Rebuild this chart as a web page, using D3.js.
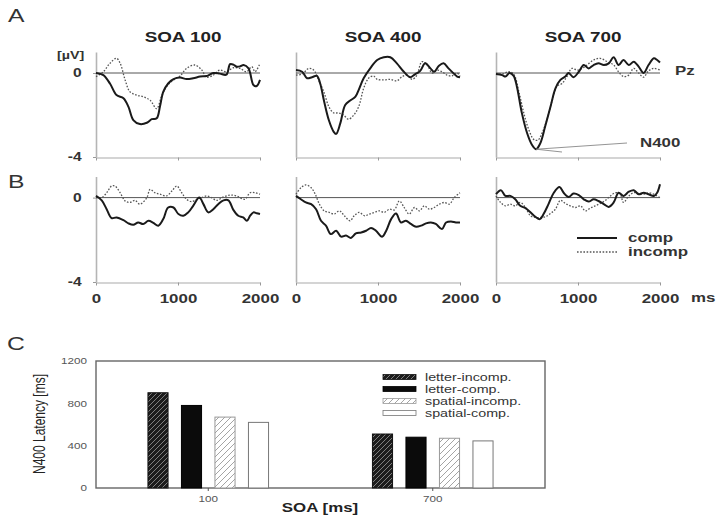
<!DOCTYPE html>
<html><head><meta charset="utf-8">
<script src="https://cdn.jsdelivr.net/npm/d3@7"></script>
<style>body{margin:0;background:#fff}svg{display:block}</style>
</head><body>
<svg id="c" width="717" height="517"></svg>
<script>
// ---------- DATA ----------
const soaTitles = ["SOA 100", "SOA 400", "SOA 700"];
const timeTicks = [0, 1000, 2000];
const voltTicks = [0, -4];
// ERP waveforms: [time ms, amplitude µV]
const a100Comp = [[0,0],[90,-0.1],[170,-0.5],[250,-1.05],[335,-1.2],[395,-1.6],[455,-2.24],[535,-2.43],[620,-2.37],[680,-2.2],[740,-2.16],[780,-1.6],[820,-0.9],[880,-0.5],[945,-0.29],[1025,-0.22],[1105,-0.29],[1185,-0.25],[1270,-0.17],[1350,-0.14],[1430,0],[1510,-0.03],[1590,-0.08],[1635,0.42],[1675,0.4],[1715,0.3],[1760,0.32],[1800,0.38],[1860,0.22],[1920,-0.57],[1960,-0.62],[2000,-0.33]];
const a100Incomp = [[0,-0.17],[90,0.06],[170,0.46],[250,0.7],[295,0.46],[355,-0.33],[415,-0.9],[495,-1.05],[575,-1.13],[660,-1.3],[740,-1.7],[800,-1.1],[860,-0.65],[945,-0.33],[1025,-0.14],[1105,0.22],[1205,0.38],[1290,0.14],[1350,-0.2],[1430,-0.1],[1510,0.14],[1590,0.06],[1675,0.25],[1755,0.22],[1835,0.06],[1900,0.3],[1940,0.06],[2000,0.46]];
const a400Comp = [[0,0.14],[75,0.06],[135,-0.25],[195,-0.2],[255,-0.14],[295,-0.5],[340,-1.3],[400,-2.24],[460,-2.8],[490,-2.9],[540,-2.4],[600,-1.52],[665,-1.3],[725,-1.13],[765,-0.8],[825,-0.25],[905,0.22],[990,0.62],[1070,0.75],[1150,0.75],[1230,0.46],[1315,0.06],[1395,-0.2],[1455,-0.05],[1515,0.1],[1575,0.46],[1640,0.22],[1685,0.06],[1740,0.33],[1800,0.46],[1860,0.22],[1925,-0.03],[1965,-0.17],[2000,-0.2]];
const a400Incomp = [[0,-0.1],[75,-0.05],[155,0.22],[215,0.14],[275,-0.33],[340,-0.9],[400,-1.6],[460,-1.9],[520,-1.9],[580,-2.0],[640,-2.2],[705,-2.0],[765,-1.6],[825,-0.73],[885,-0.25],[945,-0.14],[990,-0.3],[1070,-0.33],[1150,-0.3],[1230,-0.37],[1295,-0.17],[1355,-0.1],[1415,-0.3],[1475,-0.1],[1535,0.54],[1600,0.38],[1660,0],[1720,0.14],[1780,0.06],[1840,-0.1],[1900,-0.14],[1965,0],[2000,-0.17]];
const a700Comp = [[0,-0.05],[75,-0.1],[115,-0.17],[165,0],[215,-0.14],[255,-0.65],[315,-1.9],[380,-2.87],[440,-3.43],[490,-3.63],[540,-3.35],[600,-2.54],[665,-1.6],[725,-0.73],[785,-0.33],[845,-0.17],[885,0],[945,-0.2],[1010,0.06],[1070,0.38],[1130,0.22],[1190,0.38],[1250,0.46],[1315,0.38],[1375,0.46],[1435,0.75],[1495,0.38],[1555,0.62],[1620,0.38],[1680,0.54],[1740,0.3],[1800,0],[1860,0.38],[1925,0.7],[1965,0.62],[2000,0.5]];
const a700Incomp = [[0,-0.05],[75,-0.05],[155,0.06],[215,-0.05],[285,-1.0],[345,-2.0],[400,-2.7],[460,-3.16],[510,-3.2],[560,-2.87],[620,-2.24],[685,-1.3],[745,-0.62],[805,-0.5],[865,-0.17],[925,0.22],[990,0.14],[1050,0.22],[1110,0.38],[1190,0.62],[1270,0.7],[1355,0.54],[1435,0.38],[1495,0.06],[1555,-0.17],[1620,-0.1],[1680,0.22],[1740,0],[1800,-0.2],[1860,0.1],[1925,0.22],[2000,0.14]];
const b100Comp = [[0,0.08],[70,-0.13],[130,-0.55],[190,-0.97],[250,-0.94],[335,-1.07],[395,-1.22],[455,-1.29],[515,-1.18],[575,-1.25],[640,-1.1],[700,-1.2],[760,-1.33],[820,-1.02],[880,-0.47],[945,-0.47],[1005,-0.78],[1065,-0.86],[1125,-0.7],[1185,-0.39],[1260,0],[1310,-0.31],[1370,-0.7],[1430,-0.55],[1490,-0.31],[1555,-0.13],[1615,-0.13],[1675,-0.58],[1735,-0.86],[1795,-0.94],[1840,-1.1],[1880,-0.86],[1920,-0.7],[1960,-0.74],[2000,-0.78]];
const b100Incomp = [[0,0],[70,0],[130,0.23],[190,0.55],[230,0.55],[295,0.23],[355,-0.16],[415,-0.23],[475,-0.13],[535,-0.31],[620,0],[660,0.39],[720,0.23],[780,0.16],[860,0.08],[925,0.31],[985,0.55],[1045,0.23],[1105,-0.08],[1165,-0.19],[1230,-0.08],[1290,0],[1350,0.08],[1410,0],[1470,-0.13],[1555,0.03],[1635,0.12],[1715,0.08],[1815,-0.08],[1880,0.23],[1940,0.23],[2000,0.16]];
const b400Comp = [[0,0.08],[60,-0.08],[120,-0.23],[185,-0.31],[245,-0.55],[305,-1.1],[365,-1.33],[425,-1.73],[490,-1.57],[550,-1.85],[610,-1.8],[670,-1.91],[730,-1.7],[795,-1.65],[855,-1.57],[915,-1.44],[975,-1.57],[1050,-1.85],[1100,-1.57],[1160,-1.02],[1220,-0.75],[1280,-1.18],[1340,-1.1],[1400,-1.25],[1465,-1.38],[1525,-1.33],[1585,-1.22],[1645,-1.18],[1705,-1.25],[1780,-1.49],[1830,-1.18],[1890,-1.13],[1950,-1.18],[2000,-1.18]];
const b400Incomp = [[0,0.16],[60,0.47],[120,0.6],[185,0.47],[235,0.16],[285,-0.31],[345,-0.63],[405,-0.7],[465,-0.78],[530,-0.63],[590,-0.86],[660,-1.1],[710,-0.86],[770,-0.7],[835,-0.86],[895,-0.78],[955,-0.7],[1015,-0.63],[1075,-0.7],[1140,-0.55],[1200,-0.58],[1260,-0.16],[1320,-0.47],[1380,-0.78],[1445,-0.47],[1505,-0.63],[1565,-0.39],[1625,-0.55],[1685,-0.47],[1750,-0.31],[1810,-0.23],[1870,-0.31],[1930,0],[2000,0.23]];
const b700Comp = [[0,0.16],[60,0.35],[115,0.08],[175,0.08],[235,-0.08],[295,-0.39],[360,-0.5],[420,-0.7],[480,-0.91],[535,-1.02],[580,-0.78],[640,-0.31],[705,0.23],[775,0.5],[825,0.23],[885,0.03],[945,0.19],[1010,0.12],[1070,-0.08],[1130,-0.19],[1190,-0.08],[1250,-0.16],[1315,-0.31],[1375,-0.44],[1435,-0.23],[1495,0.23],[1555,0.08],[1620,0.28],[1680,0.35],[1740,0.16],[1800,0.23],[1860,0.16],[1925,0.08],[1965,0.23],[2000,0.63]];
const b700Incomp = [[0,0.08],[55,-0.23],[115,-0.39],[175,-0.31],[235,-0.39],[295,-0.23],[360,-0.47],[420,-0.86],[480,-0.94],[540,-0.94],[600,-0.91],[665,-0.75],[725,-0.55],[785,-0.13],[845,-0.28],[905,-0.39],[970,-0.47],[1030,-0.39],[1090,-0.63],[1150,-0.5],[1210,-0.39],[1270,-0.28],[1335,-0.13],[1395,0.08],[1455,0.23],[1515,0.16],[1555,-0.23],[1620,0.08],[1680,0.23],[1740,0.2],[1800,0.16],[1860,0.23],[1925,0.16],[2000,0]];

// Bar chart (panel C)
const soaCategories = ["100", "700"];
const conditionNames = ["letter-incomp.", "letter-comp.", "spatial-incomp.", "spatial-comp."];
const letterIncomp = [900, 510];
const letterComp = [780, 480];
const spatialIncomp = [670, 470];
const spatialComp = [620, 445];
const latencyTicks = [0, 400, 800, 1200];

// ---------- DRAW ----------
const SX = 1.3; // horizontal text stretch of the original figure
const FONT = "'Liberation Sans', Arial, Helvetica, sans-serif";
const svg = d3.select("#c").style("font-family", FONT);

function txt(x, y, s, o = {}) {
  return svg.append("text")
    .attr("transform", `translate(${x},${y}) scale(${SX},1)` + (o.rot ? " rotate(-90)" : ""))
    .attr("text-anchor", o.anchor || "start")
    .attr("font-size", o.size || 12)
    .attr("font-weight", o.weight || "normal")
    .attr("fill", o.fill || "#333")
    .text(s);
}

// panel letters
txt(8, 22, "A", {size: 19, fill: "#333"});
txt(8, 188, "B", {size: 19, fill: "#333"});
txt(7, 350, "C", {size: 19, fill: "#333"});

const panelX = [96, 296, 496];
const panelW = 164;
const rows = [
  {top: 52, bottom: 157, series: [[a100Comp, a100Incomp], [a400Comp, a400Incomp], [a700Comp, a700Incomp]], labels: false},
  {top: 176.5, bottom: 282, series: [[b100Comp, b100Incomp], [b400Comp, b400Incomp], [b700Comp, b700Incomp]], labels: true}
];

let n400Point = null;

rows.forEach((row, ri) => {
  const y = d3.scaleLinear().domain([-4, 1]).range([row.bottom, row.top]);
  panelX.forEach((px, pi) => {
    const x = d3.scaleLinear().domain([0, 2000]).range([px, px + panelW]);
    const g = svg.append("g");
    // x axis
    const xa = g.append("g").attr("transform", `translate(0,${y(-4) + 0.5})`)
      .call(d3.axisBottom(x).tickValues(timeTicks).tickSize(3).tickPadding(8).tickSizeOuter(0)
        .tickFormat(row.labels ? d3.format("d") : () => ""));
    xa.select(".domain").attr("stroke", "#aaa").attr("stroke-width", 1.2);
    xa.selectAll(".tick line").attr("stroke", "#999");
    xa.selectAll("text").attr("font-family", FONT).attr("font-size", 13).attr("font-weight", "bold")
      .attr("fill", "#333").attr("transform", `scale(${SX},1)`);
    // y axis
    const ya = g.append("g").attr("transform", `translate(${px},0)`)
      .call(d3.axisLeft(y).tickValues(voltTicks).tickSize(pi === 0 ? 3 : 0).tickPadding(8).tickSizeOuter(0)
        .tickFormat(pi === 0 ? (d => d === -4 ? "-4" : String(d)) : () => ""));
    ya.select(".domain").attr("stroke", "#b5b5b5").attr("stroke-width", 1.6);
    ya.selectAll(".tick line").attr("stroke", "#999");
    ya.selectAll("text").attr("font-family", FONT).attr("font-size", 12).attr("font-weight", "bold")
      .attr("fill", "#333").attr("transform", `scale(${SX},1)`);
    // zero line
    g.append("line").attr("x1", x(0)).attr("x2", x(2000)).attr("y1", y(0)).attr("y2", y(0))
      .attr("stroke", "#555").attr("stroke-width", 1);
    const line = d3.line().x(d => x(d[0])).y(d => y(d[1])).curve(d3.curveCatmullRom.alpha(0.5));
    const [comp, incomp] = row.series[pi];
    g.append("path").attr("d", line(incomp)).attr("fill", "none")
      .attr("stroke", "#555").attr("stroke-width", 1.3).attr("stroke-dasharray", "1.6,1.6");
    g.append("path").attr("d", line(comp)).attr("fill", "none")
      .attr("stroke", "#1a1a1a").attr("stroke-width", 2);
    if (ri === 0 && pi === 2) {
      const m = d3.least(comp, d => d[1]);
      n400Point = [x(m[0]), y(m[1])];
    }
    if (ri === 0) {
      txt(px + panelW / 2 + 5, 42, soaTitles[pi], {size: 14.5, weight: "bold", anchor: "middle", fill: "#222"});
    }
  });
});

// [µV], Pz, N400, ms
txt(57, 59, "[µV]", {size: 11, weight: "bold", fill: "#333"});
txt(675, 75, "Pz", {size: 13, weight: "bold", fill: "#333"});
txt(640, 147, "N400", {size: 13, weight: "bold", fill: "#333"});
svg.append("line").attr("x1", n400Point[0]).attr("y1", n400Point[1]).attr("x2", 627).attr("y2", 143)
  .attr("stroke", "#888").attr("stroke-width", 0.9);
svg.append("line").attr("x1", n400Point[0]).attr("y1", n400Point[1]).attr("x2", 562).attr("y2", 152)
  .attr("stroke", "#888").attr("stroke-width", 0.9);
txt(691, 302, "ms", {size: 13, weight: "bold", fill: "#333"});

// B legend
svg.append("line").attr("x1", 577).attr("x2", 617).attr("y1", 238).attr("y2", 238)
  .attr("stroke", "#1a1a1a").attr("stroke-width", 2);
svg.append("line").attr("x1", 577).attr("x2", 617).attr("y1", 252).attr("y2", 252)
  .attr("stroke", "#555").attr("stroke-width", 1.3).attr("stroke-dasharray", "1.6,1.6");
txt(628, 242, "comp", {size: 13, weight: "bold", fill: "#333"});
txt(628, 256, "incomp", {size: 13, weight: "bold", fill: "#333"});

// ---------- Panel C ----------
const defs = svg.append("defs");
function hatch(id, bg, fg, sw, sp) {
  const p = defs.append("pattern").attr("id", id).attr("patternUnits", "userSpaceOnUse")
    .attr("width", sp).attr("height", sp);
  p.append("rect").attr("width", sp).attr("height", sp).attr("fill", bg);
  p.append("path").attr("d", `M0,${sp} L${sp},0 M${-sp/2},${sp/2} L${sp/2},${-sp/2} M${sp/2},${sp*1.5} L${sp*1.5},${sp/2}`)
    .attr("stroke", fg).attr("stroke-width", sw);
}
hatch("hDark", "#1c1c1c", "#8a8a8a", 0.9, 5);
hatch("hLight", "#ffffff", "#9a9a9a", 0.9, 6);

const condFill = ["url(#hDark)", "#0b0b0b", "url(#hLight)", "#ffffff"];
const condStroke = ["#111", "#000", "#999", "#777"];
const barValues = [letterIncomp, letterComp, spatialIncomp, spatialComp];

const cLeft = 96, cRight = 545, cTop = 361, cBottom = 488;
const xC = d3.scaleBand().domain(soaCategories).range([cLeft, cRight]);
const xInner = d3.scaleBand().domain(conditionNames).range([-67, 67]).paddingInner(0.4).paddingOuter(0.2);
const yC = d3.scaleLinear().domain([0, 1200]).range([cBottom, cTop]);

svg.append("rect").attr("x", cLeft).attr("y", cTop).attr("width", cRight - cLeft).attr("height", cBottom - cTop)
  .attr("fill", "none").attr("stroke", "#666").attr("stroke-width", 1.4);

const yCa = svg.append("g").attr("transform", `translate(${cLeft},0)`)
  .call(d3.axisLeft(yC).tickValues(latencyTicks).tickSize(0).tickPadding(7).tickFormat(d3.format("d")));
yCa.select(".domain").remove();
yCa.selectAll("text").attr("font-family", FONT).attr("font-size", 9).attr("fill", "#555")
  .attr("transform", `scale(${SX},1)`);

const xCa = svg.append("g").attr("transform", `translate(0,${cBottom})`)
  .call(d3.axisBottom(xC).tickSize(3).tickPadding(5).tickSizeOuter(0));
xCa.select(".domain").remove();
xCa.selectAll(".tick line").attr("stroke", "#555");
xCa.selectAll("text").attr("font-family", FONT).attr("font-size", 9).attr("fill", "#555")
  .attr("transform", `scale(${SX},1)`);

conditionNames.forEach((cn, ci) => {
  svg.append("g").selectAll("rect").data(soaCategories).join("rect")
    .attr("x", (c) => xC(c) + xC.bandwidth() / 2 + xInner(cn))
    .attr("width", xInner.bandwidth())
    .attr("y", (c, i) => yC(barValues[ci][i]))
    .attr("height", (c, i) => yC(0) - yC(barValues[ci][i]))
    .attr("fill", condFill[ci]).attr("stroke", condStroke[ci]).attr("stroke-width", 1);
});

// legend C
conditionNames.forEach((cn, ci) => {
  const ly = 377 + ci * 12;
  svg.append("rect").attr("x", 383).attr("y", ly - 2.5).attr("width", 33).attr("height", 5)
    .attr("fill", condFill[ci]).attr("stroke", condStroke[ci]).attr("stroke-width", 0.8);
  txt(425, ly + 4, cn, {size: 11, fill: "#333"});
});

txt(45, 424, "N400 Latency [ms]", {size: 12, anchor: "middle", fill: "#222", rot: true});
txt(320, 512, "SOA [ms]", {size: 13, weight: "bold", anchor: "middle", fill: "#222"});
</script>
</body></html>
